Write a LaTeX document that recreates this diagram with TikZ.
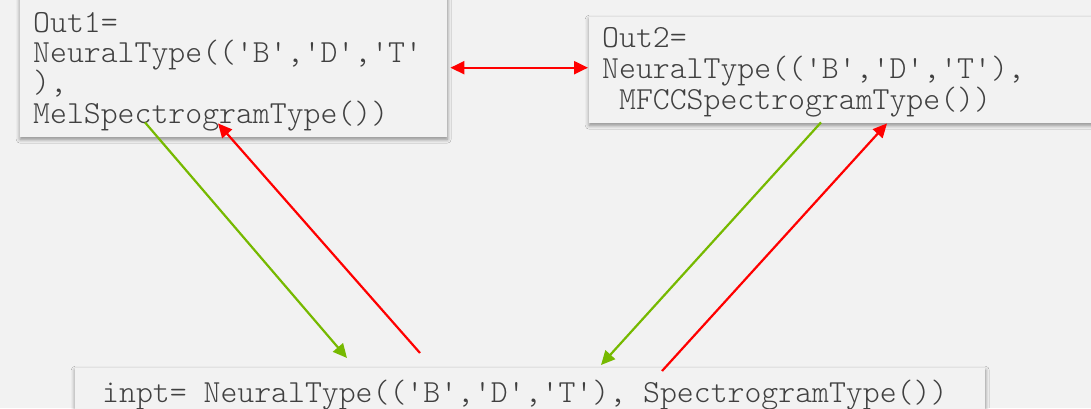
\documentclass[tikz,border=0pt]{standalone}
\usepackage{fontspec}
\newfontfamily\codefont[Ligatures=TeXOff]{lmmonolt10-regular.otf}
\usepackage{tikz}
\usetikzlibrary{arrows.meta,shadows.blur}
\definecolor{nvgreen}{HTML}{76B900}
\newcommand\codesize[1]{\codefont\fontsize{32.2}{#1}\selectfont}
\newcommand\gap{\hspace*{16.9pt}}

\begin{document}
\begin{tikzpicture}[x=1pt, y=-1pt,
  box/.style={anchor=north west, fill=gray!10, inner xsep=13pt, inner ysep=10pt,
    blur shadow={shadow xshift=0pt, shadow yshift=-2pt, shadow blur radius=4pt, shadow opacity=45},
    text=black!75, font=\codesize{30.3}},
  fwd/.style={nvgreen, line width=2.2pt, -{Triangle[length=14pt,width=13pt]}},
  back/.style={red, line width=2.2pt, -{Triangle[length=14pt,width=13pt]}}]
\fill [gray!10] (0,0) rectangle (1091,408);
\useasboundingbox (0,0) rectangle (1091,408);
\node [box, text width=401pt, text height=24pt, text depth=95pt] (out1) at (20,-2)
  {Out1=\\NeuralType(('B','D','T'\\),\\MelSpectrogramType())};
\node [box, text width=479pt, text height=20pt, text depth=66pt, font=\codesize{31}] (out2) at (589,17)
  {Out2=\\NeuralType(('B','D','T'),\\\gap MFCCSpectrogramType())};
\node [box, inner xsep=27pt, text width=856pt, text height=24pt, text depth=8pt] (inpt) at (75,368)
  {inpt=\gap NeuralType(('B','D','T'),\gap SpectrogramType())};
% between the two outputs
\draw [red, line width=2.2pt, {Triangle[length=14pt,width=13pt]}-{Triangle[length=14pt,width=13pt]},
  shorten <=3pt, shorten >=1pt] (out1.east) -- (out1.east -| out2.west);
% mel branch
\draw [fwd] ([xshift=125pt,yshift=15pt]out1.south west) -- ([xshift=272pt,yshift=10pt]inpt.north west);
\draw [back] ([xshift=345pt,yshift=15pt]inpt.north west) -- ([xshift=198pt,yshift=14pt]out1.south west);
% mfcc branch
\draw [fwd] ([xshift=232pt,yshift=1pt]out2.south west) -- ([xshift=526pt,yshift=3pt]inpt.north west);
\draw [back] ([xshift=587pt,yshift=-3pt]inpt.north west) -- ([xshift=298pt]out2.south west);
\end{tikzpicture}
\end{document}
